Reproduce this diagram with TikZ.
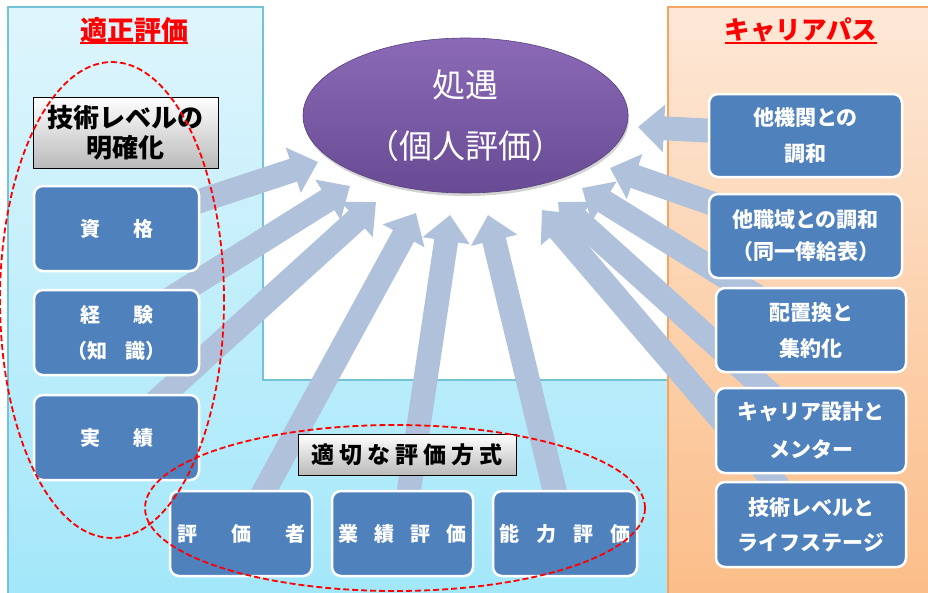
\documentclass[tikz,border=0pt]{standalone}
\usepackage{fontspec}
\setmainfont{Noto Sans CJK JP}
\usetikzlibrary{arrows.meta,shadows,shapes.geometric}

\definecolor{boxblue}{HTML}{4F81BD}
\definecolor{arrowc}{HTML}{B0C1DB}
\definecolor{paneltop}{HTML}{DFF5FC}
\definecolor{panelbot}{HTML}{A2E7FA}
\definecolor{panelline}{HTML}{74C2D6}
\definecolor{orgtop}{HTML}{FDE8D7}
\definecolor{orgbot}{HTML}{FBBD88}
\definecolor{orgline}{HTML}{F7A462}
\definecolor{purtop}{HTML}{8B69B6}
\definecolor{purbot}{HTML}{684B94}
\definecolor{redc}{HTML}{FF0000}

\begin{document}
\begin{tikzpicture}[x=1pt,y=-1pt,
  bbox/.style={draw=white, line width=2.5pt, fill=boxblue, rounded corners=9pt,
    text=white, align=center, inner sep=0pt},
  btext/.style={font=\bfseries\fontsize{20}{36}\selectfont},
  rtext/.style={font=\bfseries\fontsize{21}{#1}\selectfont},
  graybox/.style={draw=black, line width=0.8pt, top color=white, bottom color=black!27,
    text=black, align=center, inner sep=0pt},
  bigarrow/.style={arrowc, line width=24pt, -{Triangle[width=46pt,length=26pt]}},
  ring/.style={draw=redc, line width=1.8pt, dash pattern=on 6pt off 3pt},
  heading/.style={text=redc, inner sep=0pt}
]
\useasboundingbox (0,0) rectangle (928,592);
\clip (0,0) rectangle (928,592);
\fill[white] (0,0) rectangle (928,592);

% panels
\fill[top color=paneltop, bottom color=panelbot] (8,7) rectangle (668,600);
\fill[white] (263,-5) rectangle (668,380);
\draw[panelline, line width=1.2pt] (8,600) -- (8,7) -- (263,7) -- (263,380) -- (668,380);
\draw[orgline, line width=1.2pt, top color=orgtop, bottom color=orgbot] (668,7) rectangle (940,600);

% headings
\node[heading, font=\bfseries\fontsize{27}{30}\selectfont] (h1) at (134,30) {適正評価};
\draw[redc, line width=2pt] (h1.south west) -- (h1.south east);
\node[heading, font=\bfseries\fontsize{25.5}{30}\selectfont] (h2) at (801,30) {キャリアパス};
\draw[redc, line width=2pt] (h2.south west) -- (h2.south east);

% box centres
\coordinate (c-l1) at (116.5,228.5);
\coordinate (c-l2) at (116.5,332.5);
\coordinate (c-l3) at (116.5,437.5);
\coordinate (c-b1) at (241,533.5);
\coordinate (c-b2) at (402.5,533.5);
\coordinate (c-b3) at (565,533.5);
\coordinate (c-r1) at (805.5,135.5);
\coordinate (c-r2) at (805.5,236);
\coordinate (c-r3) at (811,330);
\coordinate (c-r4) at (811,430.5);
\coordinate (c-r5) at (811,524.5);

% arrow tips
\coordinate (t-l1) at (318,162);
\coordinate (t-l2) at (350,186);
\coordinate (t-l3) at (376,202);
\coordinate (t-b1) at (416,213);
\coordinate (t-b2) at (450,215);
\coordinate (t-b3) at (488,215);
\coordinate (t-r1) at (638,127);
\coordinate (t-r2) at (610,168);
\coordinate (t-r3) at (582,188);
\coordinate (t-r4) at (558,202);
\coordinate (t-r5) at (542,210);

% arrows
\foreach \s in {l1,l2,l3,b1,b2,b3,r1,r2,r3,r4,r5}
  \draw[bigarrow] (c-\s) -- (t-\s);

% central ellipse
\node[ellipse, minimum width=325pt, minimum height=155pt, draw=purbot!85!black, line width=0.6pt,
  top color=purtop, bottom color=purbot,
  drop shadow={opacity=0.35, shadow xshift=1pt, shadow yshift=-3pt},
  text=white, align=center, font=\fontsize{33}{61}\selectfont] (goal) at (465.5,115.5)
  {処遇\\（個人評価）};

% left column
\node[graybox, minimum width=185pt, minimum height=71pt,
  font=\bfseries\fontsize{26}{30}\selectfont] (gl) at (125.5,132.5) {技術レベルの\\明確化};
\node[bbox, btext, minimum width=165pt, minimum height=85pt] (l1) at (c-l1) {資\hspace{33pt}格};
\node[bbox, btext, minimum width=165pt, minimum height=85pt] (l2) at (c-l2)
  {経\hspace{33pt}験\\（知\hspace{18pt}識）};
\node[bbox, btext, minimum width=165pt, minimum height=85pt] (l3) at (c-l3) {実\hspace{33pt}績};

% bottom row
\node[graybox, minimum width=218pt, minimum height=41pt,
  font=\bfseries\fontsize{23}{30}\selectfont] (gb) at (407,454.5)
  {適\hspace{5pt}切\hspace{5pt}な\hspace{5pt}評\hspace{5pt}価\hspace{5pt}方\hspace{5pt}式};
\node[bbox, btext, minimum width=142pt, minimum height=85pt] (b1) at (c-b1)
  {評\hspace{34pt}価\hspace{34pt}者};
\node[bbox, btext, minimum width=141pt, minimum height=85pt] (b2) at (c-b2)
  {業\hspace{16pt}績\hspace{16pt}評\hspace{16pt}価};
\node[bbox, btext, minimum width=144pt, minimum height=85pt] (b3) at (c-b3)
  {能\hspace{17pt}力\hspace{17pt}評\hspace{17pt}価};

% right column
\node[bbox, rtext=36, minimum width=193pt, minimum height=83pt] (r1) at (c-r1) {他機関との\\調和};
\node[bbox, rtext=32, minimum width=193pt, minimum height=84pt] (r2) at (c-r2) {他職域との調和\\（同一俸給表）};
\node[bbox, rtext=36, minimum width=190pt, minimum height=84pt] (r3) at (c-r3) {配置換と\\集約化};
\node[bbox, rtext=38, minimum width=190pt, minimum height=85pt] (r4) at (c-r4) {キャリア設計と\\メンター};
\node[bbox, rtext=35, minimum width=190pt, minimum height=85pt] (r5) at (c-r5) {技術レベルと\\ライフステージ};

% dashed rings
\draw[ring] (112,300) ellipse [x radius=112pt, y radius=238pt];
\draw[ring] (395,508) ellipse [x radius=250pt, y radius=83pt];
\end{tikzpicture}
\end{document}
